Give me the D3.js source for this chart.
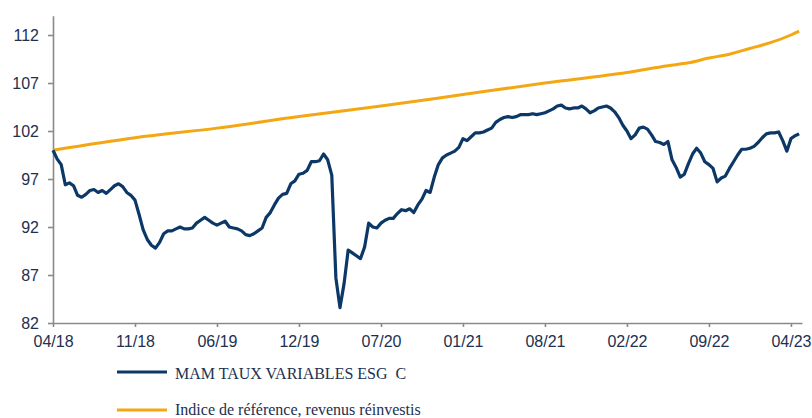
<!DOCTYPE html>
<html>
<head>
<meta charset="utf-8">
<script src="https://cdn.jsdelivr.net/npm/d3@7"></script>
<style>
  body { margin: 0; background: #fff; }
  #chart { width: 812px; height: 418px; }
</style>
</head>
<body>
<div id="chart"></div>
<script>
// Fund, one value per step (20 steps between date labels)
const fundValues = [
  100.0, 99.1, 98.5, 96.4, 96.6, 96.3, 95.3, 95.1, 95.4, 95.8,
  95.9, 95.6, 95.8, 95.5, 95.9, 96.3, 96.5, 96.2, 95.6, 95.3,
  94.8, 93.3, 91.7, 90.7, 90.1, 89.8, 90.4, 91.3, 91.6, 91.6,
  91.8, 92.0, 91.8, 91.8, 91.9, 92.4, 92.7, 93.0, 92.7, 92.4,
  92.2, 92.4, 92.6, 92.0, 91.9, 91.8, 91.6, 91.2, 91.1, 91.3,
  91.6, 91.9, 93.0, 93.5, 94.3, 95.0, 95.4, 95.5, 96.5, 96.8,
  97.5, 97.6, 97.9, 98.8, 98.8, 98.9, 99.6, 99.0, 97.4, 86.7,
  83.6, 86.1, 89.6, 89.3, 89.0, 88.7, 89.9, 92.4, 92.0, 91.9,
  92.4, 92.7, 92.9, 92.9, 93.4, 93.8, 93.7, 93.9, 93.5, 94.3,
  94.9, 95.8, 95.6, 97.2, 98.5, 99.2, 99.5, 99.7, 99.9, 100.3,
  101.2, 101.0, 101.4, 101.8, 101.8, 101.9, 102.1, 102.3, 102.9, 103.2,
  103.4, 103.5, 103.4, 103.5, 103.7, 103.7, 103.7, 103.8, 103.7, 103.8,
  103.9, 104.1, 104.3, 104.6, 104.7, 104.4, 104.3, 104.4, 104.4, 104.6,
  104.3, 103.9, 104.1, 104.4, 104.5, 104.6, 104.4, 104.0, 103.4, 102.6,
  102.0, 101.2, 101.6, 102.3, 102.4, 102.2, 101.6, 100.9, 100.8, 100.6,
  100.9, 99.0, 98.2, 97.2, 97.5, 98.6, 99.6, 100.2, 99.7, 98.8,
  98.5, 98.1, 96.7, 97.1, 97.3, 98.1, 98.8, 99.5, 100.1, 100.1,
  100.2, 100.4, 100.8, 101.3, 101.7, 101.8, 101.8, 101.9, 101.0, 99.9,
  101.2, 101.5, 101.7
];

// Benchmark, read at fewer steps
const benchSteps = [0, 20, 40, 60, 80, 100, 120, 140, 150, 155, 160, 165, 170, 175, 180, 182];
const benchValues = [100.0, 101.3, 102.3, 103.5, 104.6, 105.8, 107.0, 108.1, 108.8, 109.1, 109.6, 110.0, 110.6, 111.2, 112.0, 112.4];

const dateLabels = ['04/18', '11/18', '06/19', '12/19', '07/20', '01/21', '08/21', '02/22', '09/22', '04/23'];
const yTicks = [82, 87, 92, 97, 102, 107, 112];
const seriesNames = ['MAM TAUX VARIABLES ESG  C', 'Indice de référence, revenus réinvestis'];

const width = 812;
const height = 418;
const blue = '#0c3868';
const orange = '#f3a712';
const axisColor = '#8a8a8a';
const textColor = '#22304f';

const svg = d3.select('#chart').append('svg')
  .attr('width', width)
  .attr('height', height);

const x = d3.scaleLinear()
  .domain([0, 182.7])
  .range([53, 802]);

const y = d3.scaleLinear()
  .domain([82, 114])
  .range([323, 15.8]);

// Axes
const yAxis = svg.append('g')
  .attr('transform', `translate(${x(0)},0)`)
  .call(d3.axisLeft(y).tickValues(yTicks).tickSize(5).tickSizeOuter(0).tickPadding(9));

const xAxis = svg.append('g')
  .attr('transform', `translate(0,${y(82)})`)
  .call(d3.axisBottom(x)
    .tickValues(dateLabels.map((d, i) => i * 20))
    .tickFormat((d, i) => dateLabels[i])
    .tickSize(4).tickSizeOuter(0).tickPadding(9));

[yAxis, xAxis].forEach(g => {
  g.select('.domain').attr('stroke', axisColor).attr('stroke-width', 1.6);
  g.selectAll('.tick line').attr('stroke', axisColor).attr('stroke-width', 1.6);
  g.selectAll('.tick text')
    .attr('fill', textColor)
    .style('font-family', 'Liberation Sans, Arial, sans-serif')
    .style('font-size', '16px');
});

// Lines
const fundLine = d3.line()
  .x((d, i) => x(i))
  .y(d => y(d));

const benchLine = d3.line()
  .x(d => x(d[0]))
  .y(d => y(d[1]))
  .curve(d3.curveMonotoneX);

svg.append('path')
  .datum(benchSteps.map((s, i) => [s, benchValues[i]]))
  .attr('fill', 'none')
  .attr('stroke', orange)
  .attr('stroke-width', 3)
  .attr('d', benchLine);

svg.append('path')
  .datum(fundValues)
  .attr('fill', 'none')
  .attr('stroke', blue)
  .attr('stroke-width', 3.2)
  .attr('stroke-linejoin', 'round')
  .attr('d', fundLine);

// Legend
const legend = svg.append('g');
const legendColors = [blue, orange];
seriesNames.forEach((name, i) => {
  const ly = 372 + i * 38;
  legend.append('line')
    .attr('x1', 117).attr('x2', 167)
    .attr('y1', ly).attr('y2', ly)
    .attr('stroke', legendColors[i])
    .attr('stroke-width', 3);
  legend.append('text')
    .attr('x', 175)
    .attr('y', i === 0 ? ly + 7 : ly + 4.5)
    .attr('fill', textColor)
    .style('font-family', 'Liberation Serif, Times New Roman, serif')
    .style('font-size', '16px')
    .style('white-space', 'pre')
    .text(name);
});
</script>
</body>
</html>
